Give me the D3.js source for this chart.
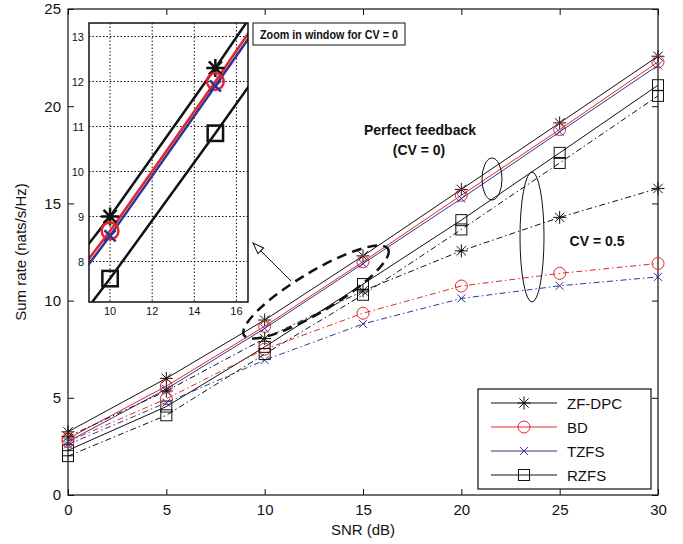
<!DOCTYPE html>
<html>
<head>
<meta charset="utf-8">
<script src="https://cdn.jsdelivr.net/npm/d3@7/dist/d3.min.js"></script>
<style>
body { margin: 0; background: #fff; }
text { font-family: "Liberation Sans", Arial, sans-serif; fill: #111; }
</style>
</head>
<body>
<div id="plot"></div>
<script>
// data
var snr = [0, 5, 10, 15, 20, 25, 30];
var zfdpc0  = [3.25, 6.0, 9.0, 12.3, 15.72, 19.14, 22.57];
var bd0     = [2.9, 5.6, 8.68, 12.0, 15.42, 18.8, 22.28];
var tzfs0   = [2.75, 5.45, 8.57, 11.9, 15.25, 18.68, 22.1];
var rzfs0   = [2.3, 4.55, 7.62, 10.85, 14.14, 17.6, 21.08];
var zfdpc05 = [3.0, 5.35, 8.05, 10.5, 12.56, 14.28, 15.77];
var bd05    = [2.75, 4.95, 7.5, 9.35, 10.75, 11.4, 11.91];
var tzfs05  = [2.6, 4.75, 6.94, 8.8, 10.11, 10.76, 11.22];
var rzfs05  = [2.0, 4.1, 7.25, 10.3, 13.66, 17.08, 20.53];
var names = ['ZF-DPC', 'BD', 'TZFS', 'RZFS'];
var xTicks = [0, 5, 10, 15, 20, 25, 30];
var yTicks = [0, 5, 10, 15, 20, 25];
var insetXTicks = [10, 12, 14, 16];
var insetYTicks = [8, 9, 10, 11, 12, 13];

var width = 683;
var height = 544;
// plot box in pixels
var pLeft = 68, pRight = 658, pTop = 9, pBottom = 495;

var red = '#e8242b';
var blue = '#2f3596';

var svg = d3.select('#plot')
	.append('svg')
	.attr('width', width)
	.attr('height', height);

var x = d3.scaleLinear().domain([0, 30]).range([pLeft, pRight]);
var y = d3.scaleLinear().domain([0, 25]).range([pBottom, pTop]);

// markers, s = half size
function marker(g, type, cx, cy, s, color, sw) {
	var p;
	if (type == 'star') {
		var d = s * 0.72;
		p = 'M' + (-s) + ',0H' + s + 'M0,' + (-s) + 'V' + s +
			'M' + (-d) + ',' + (-d) + 'L' + d + ',' + d +
			'M' + (-d) + ',' + d + 'L' + d + ',' + (-d);
		g.append('path').attr('d', p);
	} else if (type == 'circle') {
		g.append('circle').attr('r', s);
	} else if (type == 'x') {
		p = 'M' + (-s) + ',' + (-s) + 'L' + s + ',' + s + 'M' + (-s) + ',' + s + 'L' + s + ',' + (-s);
		g.append('path').attr('d', p);
	} else {
		g.append('rect').attr('x', -s).attr('y', -s).attr('width', 2 * s).attr('height', 2 * s);
	}
	g.selectAll('*')
		.attr('transform', 'translate(' + cx + ',' + cy + ')')
		.attr('fill', 'none')
		.attr('stroke', color)
		.attr('stroke-width', sw);
}

var dashDot = '6,3,1.5,3';
var series = [
	{ v: zfdpc0, color: '#111', m: 'star', s: 6.5, dash: null },
	{ v: bd0, color: red, m: 'circle', s: 6, dash: null },
	{ v: tzfs0, color: blue, m: 'x', s: 4, dash: null },
	{ v: rzfs0, color: '#111', m: 'square', s: 5.5, dash: null },
	{ v: zfdpc05, color: '#111', m: 'star', s: 6.5, dash: dashDot },
	{ v: bd05, color: red, m: 'circle', s: 6, dash: dashDot },
	{ v: tzfs05, color: blue, m: 'x', s: 4, dash: dashDot },
	{ v: rzfs05, color: '#111', m: 'square', s: 5.5, dash: dashDot }
];

// axes with inward ticks on all sides
svg.append('g')
	.attr('transform', 'translate(0,' + pBottom + ')')
	.call(d3.axisBottom(x).tickValues(xTicks).tickSize(-6).tickPadding(9))
	.call(function (g) { g.select('.domain').remove(); });
svg.append('g')
	.attr('transform', 'translate(' + pLeft + ',0)')
	.call(d3.axisLeft(y).tickValues(yTicks).tickSize(-6).tickPadding(7))
	.call(function (g) { g.select('.domain').remove(); });
svg.append('g')
	.attr('transform', 'translate(0,' + pTop + ')')
	.call(d3.axisTop(x).tickValues(xTicks).tickSize(-6).tickFormat(''))
	.call(function (g) { g.select('.domain').remove(); });
svg.append('g')
	.attr('transform', 'translate(' + pRight + ',0)')
	.call(d3.axisRight(y).tickValues(yTicks).tickSize(-6).tickFormat(''))
	.call(function (g) { g.select('.domain').remove(); });
svg.selectAll('.tick text').attr('font-size', 15).attr('font-family', '"Liberation Sans", Arial, sans-serif').attr('fill', '#111');
svg.selectAll('.tick line').attr('stroke', '#111');

svg.append('rect')
	.attr('x', pLeft).attr('y', pTop)
	.attr('width', pRight - pLeft).attr('height', pBottom - pTop)
	.attr('fill', 'none').attr('stroke', '#111').attr('stroke-width', 1.2);

// axis labels
svg.append('text')
	.attr('x', (pLeft + pRight) / 2).attr('y', 535)
	.attr('text-anchor', 'middle').attr('font-size', 15)
	.text('SNR (dB)');
svg.append('text')
	.attr('transform', 'translate(26,' + (pTop + pBottom) / 2 + ') rotate(-90)')
	.attr('text-anchor', 'middle').attr('font-size', 15)
	.text('Sum rate (nats/s/Hz)');

// lines and markers
var line = d3.line().x(function (d, i) { return x(snr[i]); }).y(function (d) { return y(d); });
series.forEach(function (s) {
	svg.append('path')
		.attr('d', line(s.v))
		.attr('fill', 'none')
		.attr('stroke', s.color)
		.attr('stroke-width', 1)
		.attr('stroke-dasharray', s.dash);
	s.v.forEach(function (d, i) {
		marker(svg.append('g'), s.m, x(snr[i]), y(d), s.s, s.color, 1);
	});
});

// annotations
svg.append('text').attr('x', 420).attr('y', 135).attr('text-anchor', 'middle')
	.attr('font-size', 14).attr('font-weight', 'bold').text('Perfect feedback');
svg.append('text').attr('x', 419).attr('y', 155).attr('text-anchor', 'middle')
	.attr('font-size', 14).attr('font-weight', 'bold').text('(CV = 0)');
svg.append('text').attr('x', 597).attr('y', 246).attr('text-anchor', 'middle')
	.attr('font-size', 14).attr('font-weight', 'bold').text('CV = 0.5');

svg.append('ellipse').attr('cx', 492).attr('cy', 179).attr('rx', 10).attr('ry', 21)
	.attr('fill', 'none').attr('stroke', '#111').attr('stroke-width', 1);
svg.append('ellipse').attr('cx', 532).attr('cy', 237).attr('rx', 12).attr('ry', 65)
	.attr('fill', 'none').attr('stroke', '#111').attr('stroke-width', 1);
svg.append('ellipse')
	.attr('transform', 'translate(316,292) rotate(-31)')
	.attr('rx', 84).attr('ry', 20)
	.attr('fill', 'none').attr('stroke', '#111').attr('stroke-width', 2.5)
	.attr('stroke-dasharray', '10,6');

// arrow to the inset
svg.append('line').attr('x1', 291).attr('y1', 281).attr('x2', 258).attr('y2', 248)
	.attr('stroke', '#111').attr('stroke-width', 1);
svg.append('path')
	.attr('transform', 'translate(253,243) rotate(-45)')
	.attr('d', 'M0,0L-4,11L4,11Z')
	.attr('fill', '#fff').attr('stroke', '#111').attr('stroke-width', 1);

// inset for CV = 0
var ix = d3.scaleLinear().domain([9, 16.55]).range([89, 248]);
var iy = d3.scaleLinear().domain([7.1, 13.3]).range([302, 23]);

svg.append('rect').attr('x', 89).attr('y', 23).attr('width', 159).attr('height', 279).attr('fill', '#fff');
svg.append('clipPath').attr('id', 'insetclip')
	.append('rect').attr('x', 89).attr('y', 23).attr('width', 159).attr('height', 279);

var inset = svg.append('g');
inset.selectAll('.gx').data(insetXTicks).enter().append('line')
	.attr('x1', function (d) { return ix(d); }).attr('x2', function (d) { return ix(d); })
	.attr('y1', 23).attr('y2', 302)
	.attr('stroke', '#111').attr('stroke-width', 1).attr('stroke-dasharray', '1.5,2');
inset.selectAll('.gy').data(insetYTicks).enter().append('line')
	.attr('y1', function (d) { return iy(d); }).attr('y2', function (d) { return iy(d); })
	.attr('x1', 89).attr('x2', 248)
	.attr('stroke', '#111').attr('stroke-width', 1).attr('stroke-dasharray', '1.5,2');
inset.selectAll('.lx').data(insetXTicks).enter().append('text')
	.attr('x', function (d) { return ix(d); }).attr('y', 315)
	.attr('text-anchor', 'middle').attr('font-size', 11)
	.text(function (d) { return d; });
inset.selectAll('.ly').data(insetYTicks).enter().append('text')
	.attr('x', 84).attr('y', function (d) { return iy(d) + 4; })
	.attr('text-anchor', 'end').attr('font-size', 11)
	.text(function (d) { return d; });

var iline = d3.line().x(function (d, i) { return ix(snr[i]); }).y(function (d) { return iy(d); });
var insetSeries = [series[3], series[0], series[1], series[2]];
var plotArea = inset.append('g').attr('clip-path', 'url(#insetclip)');
insetSeries.forEach(function (s) {
	plotArea.append('path')
		.attr('d', iline(s.v))
		.attr('fill', 'none')
		.attr('stroke', s.color)
		.attr('stroke-width', 2.5);
});
insetSeries.forEach(function (s) {
	s.v.forEach(function (d, i) {
		if (snr[i] == 10 || snr[i] == 15) {
			marker(plotArea.append('g'), s.m, ix(snr[i]), iy(d), s.s * 1.4, s.color, 2.5);
		}
	});
});
inset.append('rect').attr('x', 89).attr('y', 23).attr('width', 159).attr('height', 279)
	.attr('fill', 'none').attr('stroke', '#111').attr('stroke-width', 1.5);

// inset title box
svg.append('rect').attr('x', 253).attr('y', 23).attr('width', 152).attr('height', 22)
	.attr('fill', '#fff').attr('stroke', '#111').attr('stroke-width', 1);
svg.append('text').attr('x', 329).attr('y', 39).attr('text-anchor', 'middle')
	.attr('font-family', '"Liberation Serif", "Times New Roman", serif')
	.attr('font-size', 13.5).attr('font-weight', 'bold')
	.attr('textLength', 138).attr('lengthAdjust', 'spacingAndGlyphs')
	.text('Zoom in window for CV = 0');

// legend
var legend = svg.append('g');
legend.append('rect').attr('x', 478).attr('y', 389).attr('width', 173).attr('height', 100)
	.attr('fill', '#fff').attr('stroke', '#111').attr('stroke-width', 1.2);
names.forEach(function (n, i) {
	var ly = 403 + i * 24;
	var s = series[i];
	legend.append('line').attr('x1', 491).attr('x2', 557).attr('y1', ly).attr('y2', ly)
		.attr('stroke', s.color).attr('stroke-width', 1);
	marker(legend.append('g'), s.m, 524, ly, s.s, s.color, 1);
	legend.append('text').attr('x', 567).attr('y', ly + 5.5)
		.attr('font-size', 15).text(n);
});
</script>
</body>
</html>
